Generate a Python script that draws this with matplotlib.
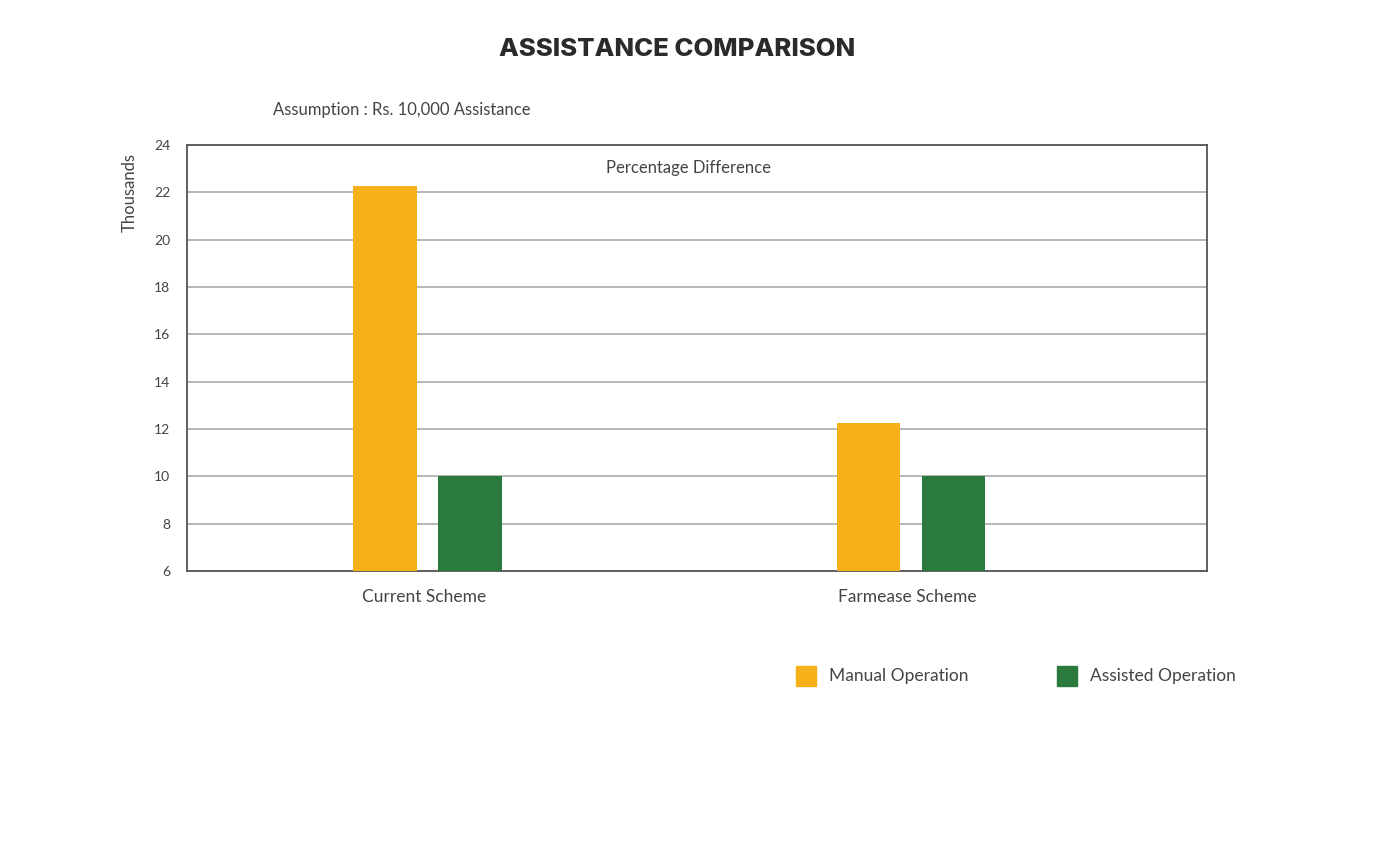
import matplotlib
matplotlib.use("Agg")
import matplotlib.pyplot as plt
import numpy as np
from matplotlib.patches import Rectangle

categories = ["Current Scheme", "Farmease Scheme"]
manual = [22.26, 12.24]
assisted = [10.0, 10.0]
yticks = [6, 8, 10, 12, 14, 16, 18, 20, 22, 24]

ORANGE = "#F5B01A"
GREEN = "#2B7A3D"
TXT = "#444444"

plt.rcParams['font.family'] = ['Lato', 'DejaVu Sans']

fig = plt.figure(figsize=(14, 8.51), dpi=100)
ax = fig.add_axes([187/1400, 1-571/851, (1207-187)/1400, (571-145)/851])

x = np.arange(len(categories))
w = 0.132
off = 0.088
ax.bar(x - off, manual, width=w, color=ORANGE, zorder=3)
ax.bar(x + off, assisted, width=w, color=GREEN, zorder=3)

ax.set_xlim(-0.497, 1.612)
ax.set_ylim(6, 24)
ax.set_yticks(yticks)
ax.set_yticklabels([str(t) for t in yticks], fontsize=10, color=TXT)
ax.set_xticks(x - 0.007)
ax.set_xticklabels(categories, fontsize=12.5, color=TXT)
ax.tick_params(axis='both', length=0)
ax.tick_params(axis='y', pad=12)
ax.tick_params(axis='x', pad=13)
ax.grid(axis='y', color='#aaaaaa', linewidth=1.2, zorder=0)
for s in ax.spines.values():
    s.set_color('#555555')
    s.set_linewidth(1.3)

fig.text(130/1400, 1-192/851, "Thousands", rotation=90, ha='center', va='center',
         fontsize=12, color=TXT)

fig.text(677/1400, 1-50/851, "ASSISTANCE COMPARISON", ha='center', va='center',
         fontsize=18.5, fontweight='heavy', color='#2a2a2a', family=['Inter', 'DejaVu Sans'])
fig.text(273/1400, 1-110/851, "Assumption : Rs. 10,000 Assistance", ha='left', va='center',
         fontsize=12, color=TXT)
ax.text(0.492, 0.946, "Percentage Difference", transform=ax.transAxes, ha='center',
        va='center', fontsize=12, color=TXT)

# legend
for (lx, col, lab) in [(796, ORANGE, "Manual Operation"), (1057, GREEN, "Assisted Operation")]:
    fig.patches.append(Rectangle((lx/1400, 1-686/851), 20/1400, 20/851,
                                 transform=fig.transFigure, color=col))
    fig.text((lx+33)/1400, 1-676/851, lab, ha='left', va='center', fontsize=12.5, color=TXT)

fig.savefig("out.png", dpi=100, facecolor='white')
